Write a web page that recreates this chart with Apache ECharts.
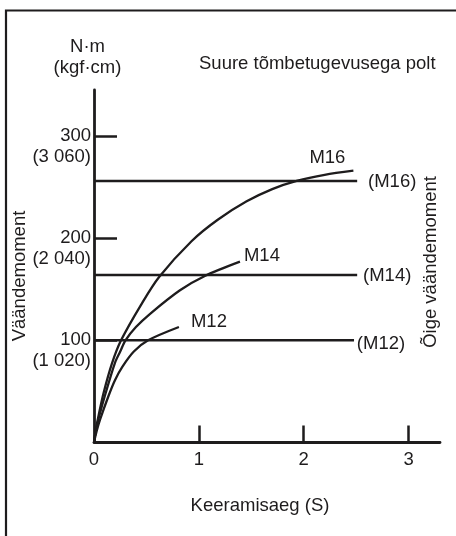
<!DOCTYPE html>
<html><head><meta charset="utf-8">
<script src="https://cdn.jsdelivr.net/npm/echarts@6/dist/echarts.min.js"></script>
<style>html,body{margin:0;padding:0;background:#fff}#c{width:456px;height:536px}</style>
</head><body><div id="c"></div>
<script>
// ---- data ----
const xTicks = [0, 1, 2, 3];
const xTickMarks = [1, 2, 3];
const yTicks = [100, 200, 300];
const kgfLabels = ['1 020', '2 040', '3 060'];
const curveNames = ['M16', 'M14', 'M12'];
const properNames = ['(M16)', '(M14)', '(M12)'];
const m16Curve = [[0,0],[0.02,14],[0.045,27],[0.09,48],[0.17,77],[0.258,100],[0.45,135],[0.621,162],[0.93,197],[1.18,218],[1.456,236],[1.7,248],[1.933,256],[2.2,262],[2.474,266]];
const m14Curve = [[0,0],[0.02,13],[0.05,26],[0.11,48],[0.2,78],[0.25,89],[0.3,100],[0.4,113],[0.535,126],[0.82,149],[1.057,163],[1.392,177]];
const m12Curve = [[0,0],[0.025,11],[0.06,23],[0.14,46],[0.2,61],[0.27,74],[0.38,89],[0.516,100],[0.81,113]];
const properLevels = [256, 164, 100];
const properEnds = [2.51, 2.51, 2.48];

const INK = '#1e1c1d';
const FONT = "'Liberation Sans', Arial, Helvetica, sans-serif";
const FS = 18.5;
const chart = echarts.init(document.getElementById('c'), null, {renderer: 'canvas'});

const curves = [m16Curve, m14Curve, m12Curve];
const curveLabelOffsets = [[-26, -13], [22, -6], [30, -5]];
const properLabelOffsets = [[35, 1], [30, 1], [27, 4]];

const series = [];
curves.forEach((c, i) => {
  series.push({
    type: 'line', name: curveNames[i], data: c, smooth: 0.3, showSymbol: false,
    lineStyle: {color: INK, width: 2.3}, silent: true, animation: false,
    endLabel: {show: true, formatter: curveNames[i], color: INK, fontFamily: FONT, fontSize: FS,
      align: 'center', verticalAlign: 'middle', distance: 0, offset: curveLabelOffsets[i]}
  });
});
properLevels.forEach((v, i) => {
  series.push({
    type: 'line', name: properNames[i], data: [[0, v], [properEnds[i], v]], showSymbol: false,
    lineStyle: {color: INK, width: 2.5}, silent: true, animation: false,
    endLabel: {show: true, formatter: properNames[i], color: INK, fontFamily: FONT, fontSize: FS,
      align: 'center', verticalAlign: 'middle', distance: 0, offset: properLabelOffsets[i]}
  });
});

chart.setOption({
  animation: false,
  backgroundColor: '#fff',
  textStyle: {fontFamily: FONT, color: INK},
  title: {text: 'Suure tõmbetugevusega polt', left: 194, top: 49,
    textStyle: {fontFamily: FONT, fontSize: FS, fontWeight: 'normal', color: INK}},
  grid: {left: 94, right: 16, top: 90, bottom: 93.5, containLabel: false, outerBoundsMode: 'none'},
  xAxis: {
    type: 'value', min: 0, max: 3.3, interval: 1,
    name: 'Keeramisaeg (S)', nameLocation: 'middle', nameGap: 54,
    nameTextStyle: {fontFamily: FONT, fontSize: FS, color: INK, padding: [0, 14, 0, 0]},
    axisLine: {show: true, lineStyle: {color: INK, width: 2.8}},
    axisTick: {show: true, inside: true, length: 17, customValues: xTickMarks, lineStyle: {color: INK, width: 2.5}},
    axisLabel: {show: true, customValues: xTicks, margin: 8, fontFamily: FONT, fontSize: FS, color: INK},
    splitLine: {show: false}
  },
  yAxis: {
    type: 'value', min: 0, max: 345, interval: 100,
    name: 'N·m\n(kgf·cm)', nameLocation: 'end', nameGap: 12,
    nameTextStyle: {fontFamily: FONT, fontSize: FS, lineHeight: 21, color: INK, padding: [0, 13, 0, 0], align: 'center'},
    axisLine: {show: true, lineStyle: {color: INK, width: 2.8}},
    axisTick: {show: true, inside: true, length: 23, customValues: yTicks, lineStyle: {color: INK, width: 2.5}},
    axisLabel: {show: true, customValues: yTicks, margin: 3, padding: [21, 0, 0, 0],
      formatter: (v) => { const i = yTicks.indexOf(v); return '{a|' + v + '}\n{a|(' + kgfLabels[i] + ')}'; },
      rich: {a: {fontFamily: FONT, fontSize: FS, lineHeight: 21, color: INK, align: 'right'}}},
    splitLine: {show: false}
  },
  graphic: [
    {type: 'polyline', shape: {points: [[6, 536], [6, 10.5], [456, 10.5]]}, style: {stroke: INK, lineWidth: 2.2, fill: null}, silent: true},
    {type: 'text', x: 20, y: 276, rotation: Math.PI / 2,
      style: {text: 'Väändemoment', font: FS + 'px ' + FONT, fill: INK, align: 'center', verticalAlign: 'middle'}},
    {type: 'text', x: 431, y: 262, rotation: Math.PI / 2,
      style: {text: 'Õige väändemoment', font: FS + 'px ' + FONT, fill: INK, align: 'center', verticalAlign: 'middle'}}
  ],
  series: series
});
</script>
</body></html>
